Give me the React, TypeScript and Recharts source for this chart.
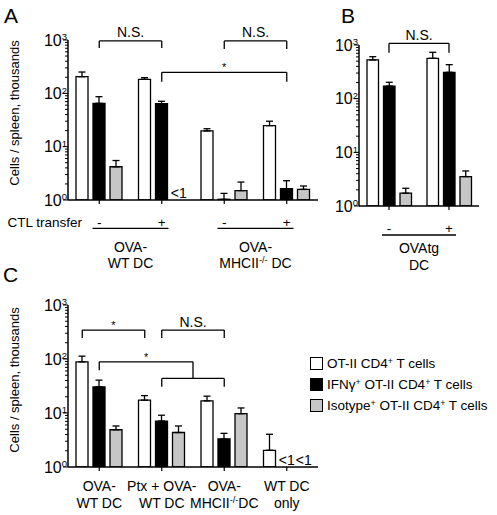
import React from 'react';
import { BarChart, Bar, XAxis, YAxis, ErrorBar, ReferenceLine, ReferenceDot, Legend } from 'recharts';

const FONT = '"Liberation Sans", Arial, Helvetica, sans-serif';
const WHITE = '#ffffff';
const BLACK = '#000000';
const GRAY = '#c6c6c6';

const logTicks = [1, 2, 3, 4, 5, 6, 7, 8, 9, 10, 20, 30, 40, 50, 60, 70, 80, 90, 100, 200, 300, 400, 500, 600, 700, 800, 900, 1000];

// fraction of a category occupied by one bar slot (bar + gap)
const SLOT = 0.272;

// ---------- Panel A ----------
const aKeys = ['a1', 'a2', 'a3', 'a4'];
const aTickLabels = ['-', '+', '-', '+'];
const aWhite = [205, 183, 19.7, 24.8];
const aWhiteErr = [46, 14, 2, 5.2];
const aBlack = [65, 64, 1.03, 1.63];
const aBlackErr = [21.5, 7, 0.3, 0.67];
const aGray: (number | null)[] = [4.2, null, 1.5, 1.58];
const aGrayErr: (number | null)[] = [1.3, null, 0.67, 0.25];
const aGroupTicks = [1, 3];
const aGroupLabels = [['OVA-', 'WT DC'], ['OVA-', 'MHCII^{-/-} DC']];
const aBrackets = [
  { x1: 0.5, x2: 1.5, y: 960, yL: 708, yR: 708, label: 'N.S.' },
  { x1: 2.5, x2: 3.5, y: 960, yL: 678, yR: 678, label: 'N.S.' },
  { x1: 1.5, x2: 3.5, y: 248, yL: 165, yR: 165, label: '*' },
];
const aBelowOne = [{ group: 1, series: 2 }];

// ---------- Panel B ----------
const bKeys = ['b1', 'b2'];
const bTickLabels = ['-', '+'];
const bWhite = [526, 565];
const bWhiteErr = [79, 166];
const bBlack = [172, 310];
const bBlackErr = [30, 120];
const bGray = [1.73, 3.53];
const bGrayErr = [0.41, 0.97];
const bGroupTicks = [1];
const bGroupLabels = [['OVAtg', 'DC']];
const bBrackets = [{ x1: 0.5, x2: 1.5, y: 1076, yL: 719, yR: 719, label: 'N.S.' }];

// ---------- Panel C ----------
const cKeys = ['c1', 'c2', 'c3', 'c4'];
const cTickLabels = [
  ['OVA-', 'WT DC'],
  ['Ptx + OVA-', 'WT DC'],
  ['OVA-', 'MHCII^{-/-}DC'],
  ['WT DC', 'only'],
];
const cWhite = [88.7, 17.3, 16.8, 2.04];
const cWhiteErr = [24.3, 3.7, 3.7, 2.0];
const cBlack: (number | null)[] = [30.5, 7.1, 3.3, null];
const cBlackErr: (number | null)[] = [10.1, 2.0, 0.9, null];
const cGray: (number | null)[] = [4.9, 4.35, 9.7, null];
const cGrayErr: (number | null)[] = [0.85, 1.4, 2.7, null];
const cBrackets = [
  { x1: 0.5 - SLOT, x2: 1.5 - SLOT, y: 344, yL: 244, yR: 244, label: '*' },
  { x1: 1.5, x2: 2.5, y: 344, yL: 244, yR: 244, label: 'N.S.' },
  { x1: 0.5, x2: 2.0, y: 88.7, yL: 62.2, yR: 88.7, label: '*' },
  { x1: 1.5, x2: 2.5, y: 43.6, yL: 30.5, yR: 30.5, label: '' },
];
const cStems = [{ x: 2.0, y1: 88.7, y2: 43.6 }];
const cBelowOne = [
  { group: 3, series: 1 },
  { group: 3, series: 2 },
];
const legendOrder = ['white', 'black', 'gray'];
const legendLabels: Record<string, string> = {
  white: 'OT-II CD4^{+} T cells',
  black: 'IFNγ^{+} OT-II CD4^{+} T cells',
  gray: 'Isotype^{+} OT-II CD4^{+} T cells',
};
const legendFill: Record<string, string> = { white: WHITE, black: BLACK, gray: GRAY };

// ---------- helpers ----------
const err = (e: number | null | undefined) => (e == null ? null : [0, e]);

function buildRows(
  keys: string[],
  w: (number | null)[], we: (number | null)[],
  b: (number | null)[], be: (number | null)[],
  g: (number | null)[], ge: (number | null)[],
) {
  return keys.map((k, i) => ({
    key: k,
    pos: i + 0.5,
    white: w[i],
    whiteErr: err(we[i]),
    black: b[i],
    blackErr: err(be[i]),
    gray: g[i],
    grayErr: err(ge[i]),
  }));
}

const aData = buildRows(aKeys, aWhite, aWhiteErr, aBlack, aBlackErr, aGray, aGrayErr);
const bData = buildRows(bKeys, bWhite, bWhiteErr, bBlack, bBlackErr, bGray, bGrayErr);
const cData = buildRows(cKeys, cWhite, cWhiteErr, cBlack, cBlackErr, cGray, cGrayErr);

function RichText({ x, y, text, size = 14, anchor = 'middle' }: { x: number; y: number; text: string; size?: number; anchor?: string }) {
  const parts = text.split(/(\^\{[^}]*\})/).filter((p) => p.length > 0);
  const rise = size * 0.38;
  const nodes: React.ReactNode[] = [];
  let raised = false;
  parts.forEach((p, i) => {
    if (p.startsWith('^{')) {
      nodes.push(
        <tspan key={i} dy={raised ? 0 : -rise} fontSize={size * 0.65}>
          {p.slice(2, -1)}
        </tspan>,
      );
      raised = true;
    } else {
      nodes.push(
        <tspan key={i} dy={raised ? rise : 0}>
          {p}
        </tspan>,
      );
      raised = false;
    }
  });
  return (
    <text x={x} y={y} textAnchor={anchor as any} fontSize={size} fontFamily={FONT} fill="#000" style={{ whiteSpace: 'pre' }}>
      {nodes}
    </text>
  );
}

function RichHtml({ text }: { text: string }) {
  const parts = text.split(/(\^\{[^}]*\})/).filter((p) => p.length > 0);
  return (
    <>
      {parts.map((p, i) =>
        p.startsWith('^{') ? (
          <span key={i} style={{ fontSize: '0.65em', verticalAlign: '0.5em', lineHeight: 0 }}>
            {p.slice(2, -1)}
          </span>
        ) : (
          <span key={i} style={{ whiteSpace: 'pre' }}>{p}</span>
        ),
      )}
    </>
  );
}

const YTick = (props: any) => {
  const { x, y, payload } = props;
  const v = payload.value;
  const exp = Math.log10(v);
  const major = Math.abs(exp - Math.round(exp)) < 1e-6;
  return (
    <g>
      <line x1={x} x2={x - (major ? 5 : 3)} y1={y} y2={y} stroke="#000" strokeWidth={1} />
      {major && (
        <text x={x - 1} y={y + 5.7} textAnchor="end" fontSize={16} fontFamily={FONT} fill="#000">
          10
          <tspan dy={-5.5} fontSize={9.5}>
            {Math.round(exp)}
          </tspan>
        </text>
      )}
    </g>
  );
};

const makeGroupTick = (ticks: number[], labels: string[][], half: number, lineDy: number, b1: number, b2: number) => (props: any) => {
  const { x, y, payload } = props;
  const idx = ticks.indexOf(payload.value);
  const lab = labels[idx];
  if (!lab) return <g />;
  return (
    <g>
      <line x1={x - half} x2={x + half} y1={y + lineDy} y2={y + lineDy} stroke="#000" strokeWidth={1.3} />
      <RichText x={x} y={y + b1} text={lab[0]} size={14} />
      <RichText x={x} y={y + b2} text={lab[1]} size={14} />
    </g>
  );
};

const CTick = (props: any) => {
  const { x, y, payload } = props;
  const idx = cKeys.indexOf(payload.value);
  const lines = cTickLabels[idx] || [];
  return (
    <g>
      {lines.map((l, j) => (
        <RichText key={j} x={x} y={y + 20 + j * 17} text={l} size={14} />
      ))}
    </g>
  );
};

const makeYLabel = (dy: number) => (props: any) => {
  const vb = props.viewBox || { x: 0, y: 0, width: 0, height: 0 };
  const cx = vb.x + 14;
  const cy = vb.y + vb.height / 2 + dy;
  return (
    <text x={cx} y={cy} transform={`rotate(-90 ${cx} ${cy})`} textAnchor="middle" dominantBaseline="central" fontSize={13} fontFamily={FONT} fill="#000">
      Cells / spleen, thousands
    </text>
  );
};

const CtlLabel = (props: any) => {
  const vb = props.viewBox || { x: 0, y: 0 };
  return (
    <text x={vb.x + 14} y={vb.y + 26.7} textAnchor="end" fontSize={13.5} fontFamily={FONT} fill="#000">
      CTL transfer
    </text>
  );
};

const LegendContent = () => {
  return (
    <div style={{ fontFamily: FONT, fontSize: 13.5, color: '#000' }}>
      {legendOrder.map((k) => (
        <div key={k} style={{ display: 'flex', alignItems: 'center', height: 21, whiteSpace: 'nowrap' }}>
          <span
            style={{
              display: 'inline-block',
              width: 13,
              height: 13,
              boxSizing: 'border-box',
              border: '1.3px solid #000',
              background: legendFill[k],
              marginRight: 4,
            }}
          />
          <span>
            <RichHtml text={legendLabels[k]} />
          </span>
        </div>
      ))}
    </div>
  );
};

type Bracket = { x1: number; x2: number; y: number; yL: number; yR: number; label: string };

function bracketLines(list: Bracket[], prefix: string, nsOffset: number) {
  const out: React.ReactNode[] = [];
  list.forEach((b, i) => {
    const isStar = b.label === '*';
    out.push(
      <ReferenceLine
        key={`${prefix}h${i}`}
        xAxisId="grp"
        segment={[{ x: b.x1, y: b.y }, { x: b.x2, y: b.y }]}
        stroke="#000"
        strokeWidth={1.3}
        ifOverflow="visible"
        label={
          b.label
            ? { value: b.label, position: 'top', offset: isStar ? 1 : nsOffset, fontSize: isStar ? 11 : 14, fill: '#000', fontFamily: FONT }
            : undefined
        }
      />,
    );
    out.push(
      <ReferenceLine key={`${prefix}l${i}`} xAxisId="grp" segment={[{ x: b.x1, y: b.y }, { x: b.x1, y: b.yL }]} stroke="#000" strokeWidth={1.3} ifOverflow="visible" />,
    );
    out.push(
      <ReferenceLine key={`${prefix}r${i}`} xAxisId="grp" segment={[{ x: b.x2, y: b.y }, { x: b.x2, y: b.yR }]} stroke="#000" strokeWidth={1.3} ifOverflow="visible" />,
    );
  });
  return out;
}

function belowOneDots(list: { group: number; series: number }[], prefix: string) {
  return list.map((d, i) => (
    <ReferenceDot
      key={`${prefix}${i}`}
      xAxisId="grp"
      x={d.group + 0.5 + (d.series - 1) * SLOT}
      y={1}
      r={0}
      fill="none"
      stroke="none"
      ifOverflow="visible"
      label={{ value: '<1', position: 'top', offset: 2, fontSize: 14, fill: '#000', fontFamily: FONT }}
    />
  ));
}

function seriesBars() {
  return [
    <Bar key="white" dataKey="white" name="OT-II CD4+ T cells" fill={WHITE} stroke="#000" strokeWidth={1.3} isAnimationActive={false}>
      <ErrorBar dataKey="whiteErr" width={3.5} stroke="#000" strokeWidth={1.3} isAnimationActive={false} />
    </Bar>,
    <Bar key="black" dataKey="black" name="IFNγ+ OT-II CD4+ T cells" fill={BLACK} stroke="#000" strokeWidth={1.3} isAnimationActive={false}>
      <ErrorBar dataKey="blackErr" width={3.5} stroke="#000" strokeWidth={1.3} isAnimationActive={false} />
    </Bar>,
    <Bar key="gray" dataKey="gray" name="Isotype+ OT-II CD4+ T cells" fill={GRAY} stroke="#000" strokeWidth={1.3} isAnimationActive={false}>
      <ErrorBar dataKey="grayErr" width={3.5} stroke="#000" strokeWidth={1.3} isAnimationActive={false} />
    </Bar>,
  ];
}

const yAxisCommon = {
  scale: 'log' as const,
  domain: [1, 1000] as [number, number],
  allowDataOverflow: true,
  ticks: logTicks,
  interval: 0 as const,
  tick: YTick,
  tickLine: false,
  tickSize: 0,
  tickMargin: 0,
  axisLine: { stroke: '#000', strokeWidth: 1.5 },
};

const letterStyle: React.CSSProperties = {
  position: 'absolute',
  fontFamily: FONT,
  fontSize: 21,
  lineHeight: '21px',
  color: '#000',
};

export default function App() {
  return (
    <div style={{ position: 'absolute', left: 0, top: 0, width: 497, height: 515, background: '#fff', overflow: 'hidden', fontFamily: FONT }}>
      <div style={{ ...letterStyle, left: 4, top: 5 }}>A</div>
      <div style={{ ...letterStyle, left: 341, top: 5 }}>B</div>
      <div style={{ ...letterStyle, left: 3, top: 264 }}>C</div>

      {/* Panel A */}
      <div style={{ position: 'absolute', left: 0, top: 0 }}>
        <BarChart width={330} height={275} data={aData} margin={{ top: 40, right: 12, left: 0, bottom: 0 }} barSize={12} barGap={5} style={{ fontFamily: FONT }}>
          <XAxis
            dataKey="key"
            interval={0}
            tickFormatter={(v: any) => aTickLabels[aKeys.indexOf(v)]}
            height={26}
            tickSize={4}
            tickMargin={13}
            stroke="#000"
            axisLine={{ stroke: '#000', strokeWidth: 1.5 }}
            tickLine={{ stroke: '#000', strokeWidth: 1.2 }}
            tick={{ fill: '#000', fontSize: 13.5, fontFamily: FONT }}
            label={{ content: CtlLabel } as any}
          />
          <XAxis
            xAxisId="grp"
            type="number"
            dataKey="pos"
            domain={[0, 4]}
            allowDataOverflow
            ticks={aGroupTicks}
            interval={0}
            height={49}
            axisLine={false}
            tickLine={false}
            tickSize={0}
            tickMargin={0}
            tick={makeGroupTick(aGroupTicks, aGroupLabels, 38, 2.3, 25.7, 42.3)}
          />
          <YAxis {...yAxisCommon} width={68} label={{ content: makeYLabel(-7) } as any} />
          {seriesBars()}
          {bracketLines(aBrackets, 'a', 4)}
          {belowOneDots(aBelowOne, 'a')}
        </BarChart>
      </div>

      {/* Panel B */}
      <div style={{ position: 'absolute', left: 325, top: 0 }}>
        <BarChart width={165} height={275} data={bData} margin={{ top: 45, right: 11, left: 0, bottom: 0 }} barSize={11.5} barGap={5} style={{ fontFamily: FONT }}>
          <XAxis
            dataKey="key"
            interval={0}
            tickFormatter={(v: any) => bTickLabels[bKeys.indexOf(v)]}
            height={27}
            tickSize={4}
            tickMargin={13}
            stroke="#000"
            axisLine={{ stroke: '#000', strokeWidth: 1.5 }}
            tickLine={{ stroke: '#000', strokeWidth: 1.2 }}
            tick={{ fill: '#000', fontSize: 13.5, fontFamily: FONT }}
          />
          <XAxis
            xAxisId="grp"
            type="number"
            dataKey="pos"
            domain={[0, 2]}
            allowDataOverflow
            ticks={bGroupTicks}
            interval={0}
            height={42}
            axisLine={false}
            tickLine={false}
            tickSize={0}
            tickMargin={0}
            tick={makeGroupTick(bGroupTicks, bGroupLabels, 37, 2, 19.7, 36.7)}
          />
          <YAxis {...yAxisCommon} width={34} />
          {seriesBars()}
          {bracketLines(bBrackets, 'b', 3.3)}
        </BarChart>
      </div>

      {/* Panel C */}
      <div style={{ position: 'absolute', left: 0, top: 270 }}>
        <BarChart width={497} height={245} data={cData} margin={{ top: 35, right: 179, left: 0, bottom: 0 }} barSize={12} barGap={5} style={{ fontFamily: FONT }}>
          <XAxis
            dataKey="key"
            interval={0}
            height={48}
            tickSize={4}
            tickMargin={0}
            stroke="#000"
            axisLine={{ stroke: '#000', strokeWidth: 1.5 }}
            tickLine={{ stroke: '#000', strokeWidth: 1.2 }}
            tick={CTick}
          />
          <XAxis xAxisId="grp" type="number" dataKey="pos" domain={[0, 4]} allowDataOverflow hide />
          <YAxis {...yAxisCommon} width={68} label={{ content: makeYLabel(-6) } as any} />
          {seriesBars()}
          {bracketLines(cBrackets, 'c', 3)}
          {cStems.map((s, i) => (
            <ReferenceLine key={`cs${i}`} xAxisId="grp" segment={[{ x: s.x, y: s.y1 }, { x: s.x, y: s.y2 }]} stroke="#000" strokeWidth={1.3} ifOverflow="visible" />
          ))}
          {belowOneDots(cBelowOne, 'c')}
          <Legend
            layout="vertical"
            align="center"
            verticalAlign="middle"
            content={LegendContent}
            wrapperStyle={{ left: 310, top: 83, width: 187 }}
          />
        </BarChart>
      </div>
    </div>
  );
}
